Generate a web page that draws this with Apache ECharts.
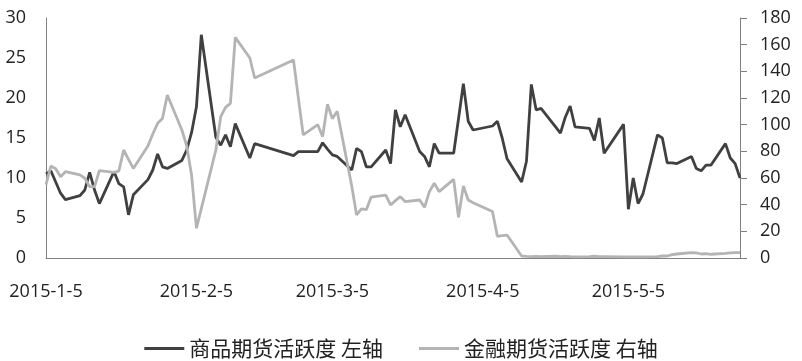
<!DOCTYPE html>
<html><head><meta charset="utf-8">
<script src="https://cdn.jsdelivr.net/npm/echarts@6/dist/echarts.min.js"></script>
<style>html,body{margin:0;padding:0;background:#fff}#c{width:802px;height:361px}</style>
</head><body><div id="c"></div>
<script>
// Trading days (2015)
const tradeDates = [
  '2015-1-5','2015-1-6','2015-1-7','2015-1-8','2015-1-9','2015-1-12','2015-1-13','2015-1-14','2015-1-15','2015-1-16',
  '2015-1-19','2015-1-20','2015-1-21','2015-1-22','2015-1-23','2015-1-26','2015-1-27','2015-1-28','2015-1-29','2015-1-30',
  '2015-2-2','2015-2-3','2015-2-4','2015-2-5','2015-2-6','2015-2-9','2015-2-10','2015-2-11','2015-2-12','2015-2-13',
  '2015-2-16','2015-2-17','2015-2-25','2015-2-26','2015-2-27',
  '2015-3-2','2015-3-3','2015-3-4','2015-3-5','2015-3-6','2015-3-9','2015-3-10','2015-3-11','2015-3-12','2015-3-13',
  '2015-3-16','2015-3-17','2015-3-18','2015-3-19','2015-3-20','2015-3-23','2015-3-24','2015-3-25','2015-3-26','2015-3-27',
  '2015-3-30','2015-3-31',
  '2015-4-1','2015-4-2','2015-4-3','2015-4-7','2015-4-8','2015-4-9','2015-4-10','2015-4-13','2015-4-14','2015-4-15',
  '2015-4-16','2015-4-17','2015-4-20','2015-4-21','2015-4-22','2015-4-23','2015-4-24','2015-4-27','2015-4-28','2015-4-29','2015-4-30',
  '2015-5-4','2015-5-5','2015-5-6','2015-5-7','2015-5-8','2015-5-11','2015-5-12','2015-5-13','2015-5-14','2015-5-15',
  '2015-5-18','2015-5-19','2015-5-20','2015-5-21','2015-5-22','2015-5-25','2015-5-26','2015-5-27','2015-5-28'
];
// 商品期货活跃度 (left axis)
const commodity = [
  10.5,10.9,9.5,8.1,7.3,7.8,8.5,10.7,8.5,6.8,10.8,9.3,8.9,5.4,7.9,9.8,11.0,13.0,11.4,11.2,
  12.2,13.5,15.7,18.9,27.9,15.1,14.1,15.4,13.9,16.8,12.5,14.3,12.8,13.3,13.3,
  13.3,14.4,13.6,12.9,12.7,11.0,13.7,13.3,11.4,11.4,13.5,11.8,18.5,16.4,17.9,13.3,12.7,11.4,14.3,13.1,13.1,17.4,
  21.8,17.1,16.0,16.5,17.1,15.0,12.4,9.5,12.1,21.7,18.5,18.7,16.4,15.6,17.6,19.0,16.4,16.2,14.7,17.5,13.1,
  16.7,6.1,10.0,6.8,8.0,15.4,15.0,11.9,11.9,11.8,12.7,11.2,10.9,11.6,11.6,14.3,12.5,11.8,10.0
];
// 金融期货活跃度 (right axis)
const financial = [
  55,69,67,61,64.7,62.3,59.8,53.5,53.5,65.5,64.2,65.2,81,74,67.2,84,93,101,104.7,122.3,
  96,84,62,22.3,37,81,106,113,116,165.5,150,135,148.5,120,92.3,
  100,91,115.3,104.5,110,54,32.3,36.8,36.2,45.7,47.2,39.8,43,46,42.3,43.5,38,49.8,56,49.8,59,30.5,
  54,43.5,41.5,34.8,16.3,16.8,17.2,1.5,1.2,1.0,1.2,1.0,1.3,1.0,1.2,1.0,0.9,1.1,1.3,1.0,1.0,
  0.8,0.8,0.8,0.8,0.8,1.0,1.5,1.5,2.5,3.0,4.0,3.8,3.0,3.2,2.8,3.5,3.8,4.0,4.0
];
const seriesNames = ['商品期货活跃度 左轴', '金融期货活跃度 右轴'];
const xTickLabels = ['2015-1-5','2015-2-5','2015-3-5','2015-4-5','2015-5-5'];
const leftAxisRange = [0, 30, 5];
const rightAxisRange = [0, 180, 20];

// calendar-day categories (date axis)
function parse(s){const p=s.split('-').map(Number);return Date.UTC(p[0],p[1]-1,p[2]);}
function fmt(t){const d=new Date(t);return d.getUTCFullYear()+'-'+(d.getUTCMonth()+1)+'-'+d.getUTCDate();}
const days=[];
for(let t=parse(tradeDates[0]);t<=parse(tradeDates[tradeDates.length-1]);t+=86400000) days.push(fmt(t));
const idx={}; tradeDates.forEach((d,i)=>idx[d]=i);
const s1=days.map(d=>d in idx?commodity[idx[d]]:null);
const s2=days.map(d=>d in idx?financial[idx[d]]:null);

const font='"Open Sans", sans-serif';
const chart=echarts.init(document.getElementById('c'));
chart.setOption({
  animation:false,
  backgroundColor:'#fff',
  grid:{left:46,right:62,top:18,bottom:103},
  legend:{
    data:seriesNames, left:'center', top:333, icon:'rect', itemWidth:40, itemHeight:3, itemGap:36,
    textStyle:{fontFamily:'"Noto Sans CJK SC", sans-serif', fontSize:21, color:'#222'}
  },
  xAxis:{
    type:'category', data:days, boundaryGap:false,
    axisLine:{lineStyle:{color:'#808080',width:1}},
    axisTick:{show:false},
    axisLabel:{interval:0, hideOverlap:false, formatter:v=>xTickLabels.indexOf(v)>=0?v:'', color:'#222', fontFamily:font, fontSize:18, margin:25},
    splitLine:{show:false}
  },
  yAxis:[
    {type:'value', min:leftAxisRange[0], max:leftAxisRange[1], interval:leftAxisRange[2],
     axisLine:{show:true,lineStyle:{color:'#808080'}}, axisTick:{show:false}, splitLine:{show:false},
     axisLabel:{color:'#222', fontFamily:font, fontSize:18, margin:20}},
    {type:'value', min:rightAxisRange[0], max:rightAxisRange[1], interval:rightAxisRange[2], position:'right',
     axisLine:{show:true,lineStyle:{color:'#808080'}}, axisTick:{show:true,length:7,inside:false,lineStyle:{color:'#808080'}}, splitLine:{show:false},
     axisLabel:{color:'#222', fontFamily:font, fontSize:18, margin:20}}
  ],
  series:[
    {name:seriesNames[0], type:'line', yAxisIndex:0, data:s1, connectNulls:true, showSymbol:false, symbol:'none',
     lineStyle:{color:'#404040', width:2.8}, itemStyle:{color:'#404040'}},
    {name:seriesNames[1], type:'line', yAxisIndex:1, data:s2, connectNulls:true, showSymbol:false, symbol:'none',
     lineStyle:{color:'#b4b4b4', width:2.8}, itemStyle:{color:'#b4b4b4'}}
  ]
});
</script></body></html>
